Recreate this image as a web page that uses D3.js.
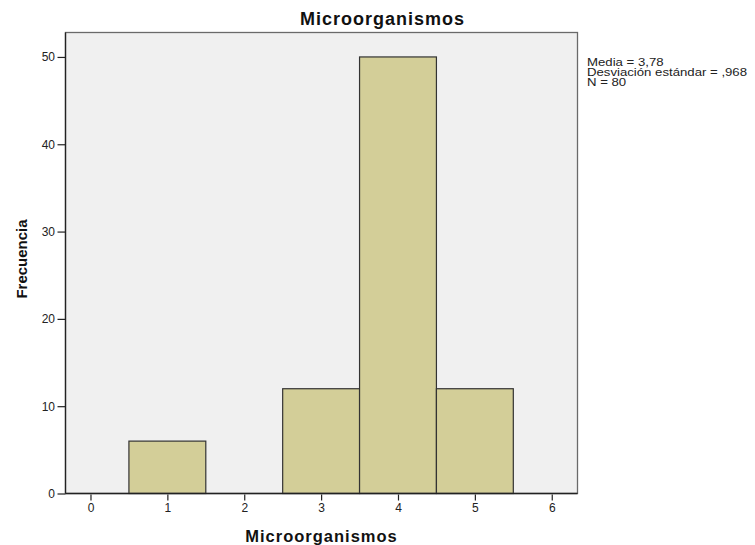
<!DOCTYPE html>
<html><head><meta charset="utf-8">
<script src="https://cdn.jsdelivr.net/npm/d3@7"></script>
<style>body{margin:0;background:#fff}svg{display:block;font-family:"Liberation Sans",Arial,sans-serif}</style>
</head><body>
<script>
const binStarts = [0.5, 2.5, 3.5, 4.5];
const binEnds = [1.5, 3.5, 4.5, 5.5];
const counts = [6, 12, 50, 12];
const xTicks = [0, 1, 2, 3, 4, 5, 6];
const yTicks = [0, 10, 20, 30, 40, 50];
const statsLines = ["Media = 3,78", "Desviación estándar = ,968", "N = 80"];
const titleText = "Microorganismos";
const xLabel = "Microorganismos";
const yLabel = "Frecuencia";

const W = 755, H = 545;
const L = 65.5, R = 577.5, T = 32.5, B = 493.5;
const svg = d3.select("body").append("svg").attr("width", W).attr("height", H);
const x = d3.scaleLinear().domain([-0.325, 6.335]).range([L, R]);
const y = d3.scaleLinear().domain([0, 52.8]).range([B, T]);

svg.append("rect").attr("x", L).attr("y", T).attr("width", R - L).attr("height", B - T)
  .attr("fill", "#f0f0f0");

svg.selectAll("rect.bar").data(counts).enter().append("rect").attr("class", "bar")
  .attr("x", (d, i) => x(binStarts[i]))
  .attr("width", (d, i) => x(binEnds[i]) - x(binStarts[i]))
  .attr("y", d => y(d))
  .attr("height", d => y(0) - y(d))
  .attr("fill", "#d3ce98").attr("stroke", "#333").attr("stroke-width", 1.2);

svg.append("rect").attr("x", L).attr("y", T).attr("width", R - L).attr("height", B - T)
  .attr("fill", "none").attr("stroke", "#6a6a6a").attr("stroke-width", 1.3);
svg.append("line").attr("x1", L).attr("x2", R).attr("y1", B).attr("y2", B).attr("stroke", "#222").attr("stroke-width", 1.3);
svg.append("line").attr("x1", L).attr("x2", L).attr("y1", T).attr("y2", B).attr("stroke", "#222").attr("stroke-width", 1.3);

const yAxis = svg.append("g").attr("transform", `translate(${L},0)`)
  .call(d3.axisLeft(y).tickValues(yTicks).tickSize(8).tickPadding(2.5).tickFormat(d3.format("d")));
yAxis.select(".domain").remove();
yAxis.selectAll("line").attr("stroke", "#222").attr("stroke-width", 1.2);
yAxis.selectAll("text").attr("font-size", 12).attr("fill", "#222").attr("font-family", "Liberation Sans, Arial, sans-serif");

const xAxis = svg.append("g").attr("transform", `translate(0,${B + 1})`)
  .call(d3.axisBottom(x).tickValues(xTicks).tickSize(6).tickPadding(3).tickFormat(d3.format("d")));
xAxis.select(".domain").remove();
xAxis.selectAll("line").attr("stroke", "#222").attr("stroke-width", 1.2);
xAxis.selectAll("text").attr("font-size", 12).attr("fill", "#222").attr("font-family", "Liberation Sans, Arial, sans-serif");

svg.append("text").attr("x", 382.5).attr("y", 25).attr("text-anchor", "middle")
  .attr("font-size", 18).attr("letter-spacing", 1).attr("font-weight", "bold").attr("fill", "#111").text(titleText);
svg.append("text").attr("x", (L + R) / 2).attr("y", 542).attr("text-anchor", "middle")
  .attr("font-size", 16.5).attr("letter-spacing", 1).attr("font-weight", "bold").attr("fill", "#111").text(xLabel);
svg.append("text").attr("transform", `translate(27,259) rotate(-90)`).attr("text-anchor", "middle")
  .attr("font-size", 15).attr("font-weight", "bold").attr("fill", "#111").text(yLabel);

svg.append("g").attr("transform", "translate(587,0) scale(1.32,1)")
  .selectAll("text").data(statsLines).enter().append("text")
  .attr("x", 0).attr("y", (d, i) => 66 + i * 10)
  .attr("font-size", 10).attr("fill", "#222").text(d => d);
</script>
</body></html>
